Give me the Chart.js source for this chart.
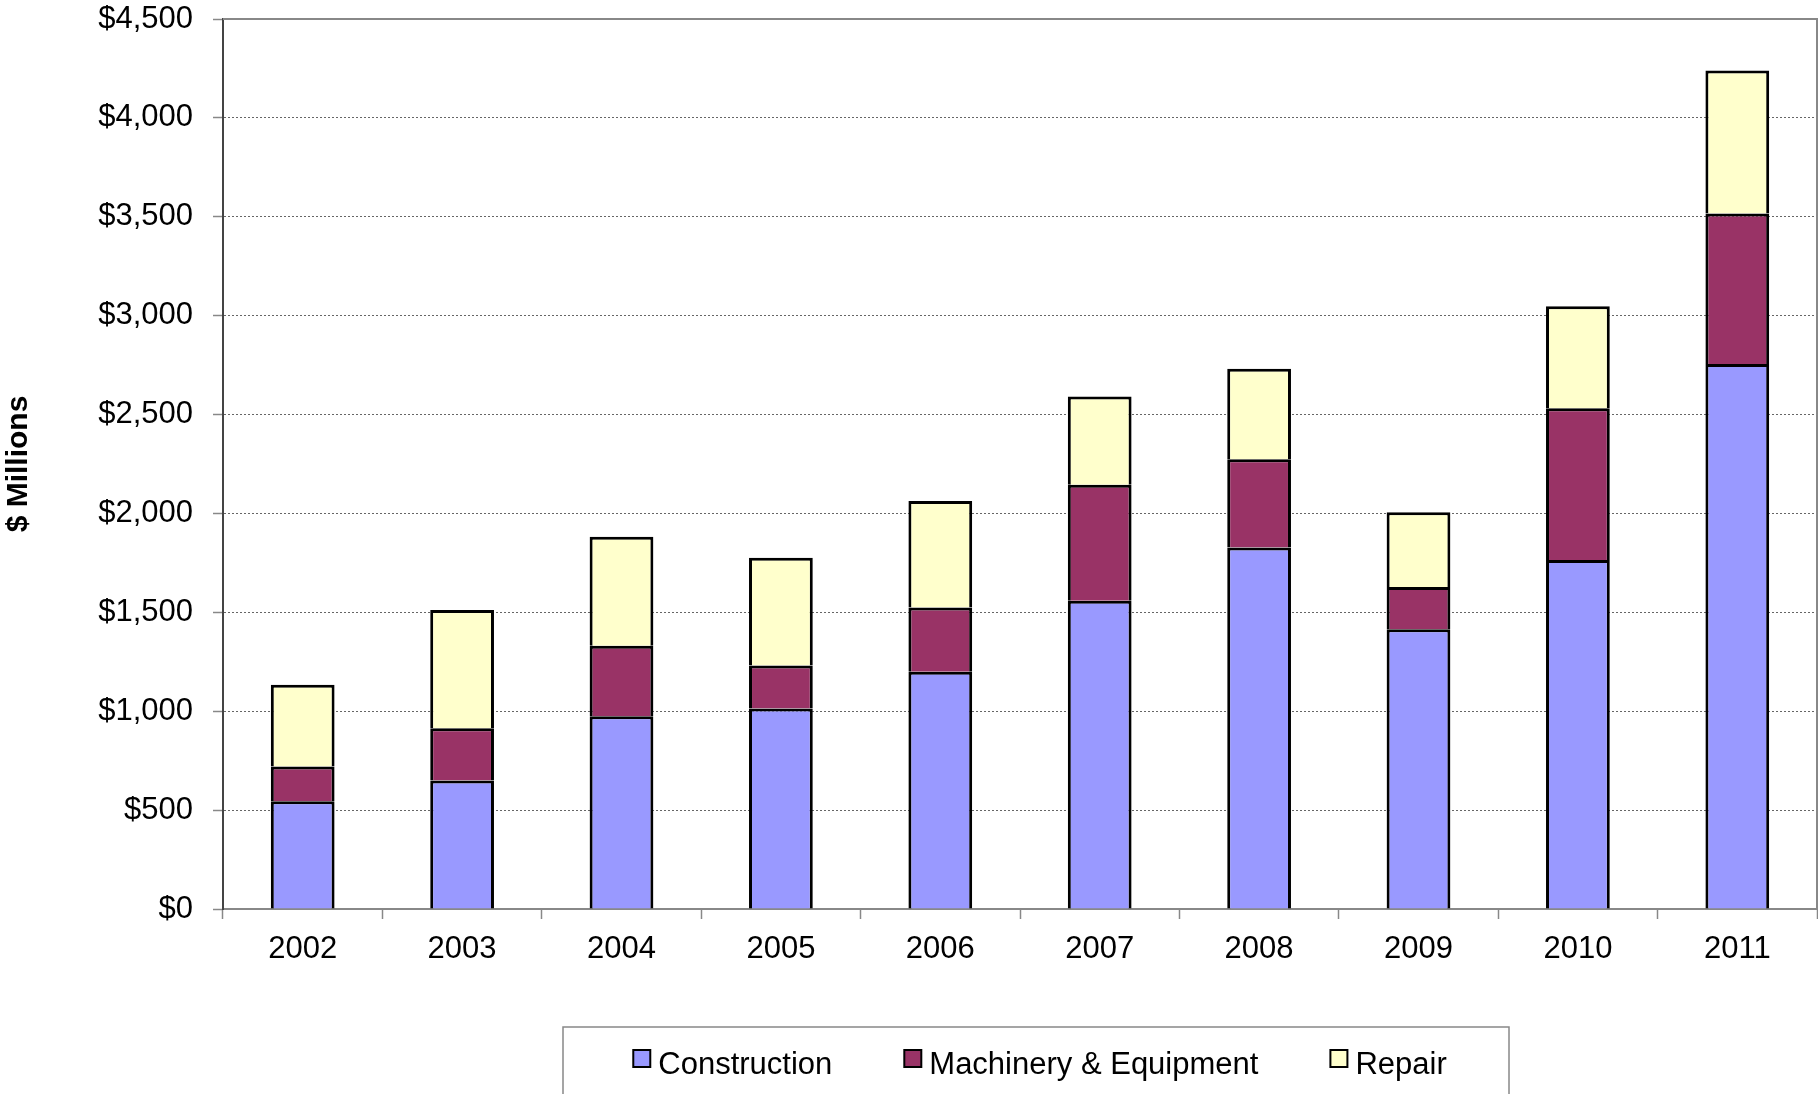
<!DOCTYPE html>
<html>
<head>
<meta charset="utf-8">
<title>Investment by type</title>
<script src="https://cdn.jsdelivr.net/npm/chart.js@4.4.1/dist/chart.umd.min.js"></script>
<style>
    body { margin: 0; background: #fff; }
    #wrap { width: 1818px; height: 1094px; position: relative; }
</style>
</head>
<body>
<div id="wrap"><canvas id="grafico"></canvas></div>
<script>
const years = ['2002', '2003', '2004', '2005', '2006', '2007', '2008', '2009', '2010', '2011'];
const construction = [545, 650, 975, 1014, 1200, 1558, 1828, 1414, 1764, 2755];
const machinery = [176, 264, 356, 217, 324, 587, 446, 214, 768, 762];
const repair = [413, 598, 551, 545, 539, 446, 458, 378, 515, 722];
const yTicks = [0, 500, 1000, 1500, 2000, 2500, 3000, 3500, 4000, 4500];

Chart.defaults.font.family = '"Liberation Sans", Arial, sans-serif';
Chart.defaults.color = '#000';

// top and right border of the plot area
const plotFrame = {
    id: 'plotFrame',
    afterDatasetsDraw(chart) {
        const a = chart.chartArea;
        const ctx = chart.ctx;
        ctx.save();
        ctx.strokeStyle = '#888';
        ctx.lineWidth = 2;
        ctx.beginPath();
        ctx.moveTo(a.left, a.top);
        ctx.lineTo(a.right, a.top);
        ctx.lineTo(a.right, a.bottom);
        ctx.stroke();
        ctx.restore();
    }
};

// legend in a box below the chart, like the original spreadsheet legend
const boxLegend = {
    id: 'boxLegend',
    afterDraw(chart) {
        const ctx = chart.ctx;
        const frameLeft = 563, frameRight = 1509, frameTop = 1027;
        const box = 17, gapText = 8, gapItem = 72;
        ctx.save();
        ctx.font = '31px "Liberation Sans", Arial, sans-serif';
        const items = chart.data.datasets.map(ds => ({
            label: ds.label,
            color: ds.backgroundColor,
            w: ctx.measureText(ds.label).width
        }));
        let total = gapItem * (items.length - 1);
        items.forEach(it => total += box + gapText + it.w);

        ctx.strokeStyle = '#888';
        ctx.lineWidth = 1.5;
        ctx.strokeRect(frameLeft, frameTop, frameRight - frameLeft, 200);

        let x = (frameLeft + frameRight) / 2 - total / 2 + 4;
        const baseline = 1074;
        items.forEach(it => {
            ctx.fillStyle = it.color;
            ctx.fillRect(x, baseline - 24, box, box);
            ctx.strokeStyle = '#000';
            ctx.lineWidth = 2;
            ctx.strokeRect(x, baseline - 24, box, box);
            ctx.fillStyle = '#000';
            ctx.textBaseline = 'alphabetic';
            ctx.textAlign = 'left';
            ctx.fillText(it.label, x + box + gapText, baseline);
            x += box + gapText + it.w + gapItem;
        });
        ctx.restore();
    }
};

const config = {
    type: 'bar',
    data: {
        labels: years,
        datasets: [
            {
                label: 'Construction',
                data: construction,
                backgroundColor: '#9999FF',
                borderColor: '#000',
                borderWidth: 3
            },
            {
                label: 'Machinery & Equipment',
                data: machinery,
                backgroundColor: '#993366',
                borderColor: '#000',
                borderWidth: 3
            },
            {
                label: 'Repair',
                data: repair,
                backgroundColor: '#FFFFCC',
                borderColor: '#000',
                borderWidth: 3
            }
        ]
    },
    options: {
        responsive: true,
        maintainAspectRatio: false,
        animation: false,
        layout: {
            padding: { top: 0, right: 1, bottom: 0, left: 0 }
        },
        datasets: {
            bar: { barPercentage: 0.4, categoryPercentage: 1.0 }
        },
        plugins: {
            legend: { display: false },
            tooltip: { enabled: false }
        },
        scales: {
            x: {
                stacked: true,
                grid: {
                    offset: true,
                    drawOnChartArea: false,
                    tickLength: 10,
                    tickColor: '#888',
                    tickWidth: 1.5
                },
                border: { color: '#888', width: 2 },
                ticks: {
                    padding: 12,
                    maxRotation: 0,
                    font: { size: 31 }
                },
                afterFit: function(scale) { scale.height = 185; }
            },
            y: {
                stacked: true,
                min: 0,
                max: 4500,
                afterBuildTicks: function(scale) {
                    scale.ticks = yTicks.map(v => ({ value: v }));
                },
                grid: {
                    color: '#666',
                    lineWidth: 1,
                    tickLength: 10,
                    tickColor: '#888',
                    tickWidth: 1.5
                },
                border: { color: '#444', width: 2, dash: [2, 2] },
                ticks: {
                    padding: 20,
                    font: { size: 31 },
                    callback: function(v) { return '$' + v.toLocaleString('en-US'); }
                },
                title: {
                    display: true,
                    text: '$ Millions',
                    font: { size: 30, weight: 'bold', lineHeight: 1 },
                    padding: { top: 4, bottom: 0 }
                },
                afterFit: function(scale) {
                    scale.width = 223;
                    scale.paddingTop = 19;
                    scale.paddingBottom = 0;
                }
            }
        }
    },
    plugins: [plotFrame, boxLegend]
};

const ctx = document.getElementById('grafico').getContext('2d');
new Chart(ctx, config);
</script>
</body>
</html>
